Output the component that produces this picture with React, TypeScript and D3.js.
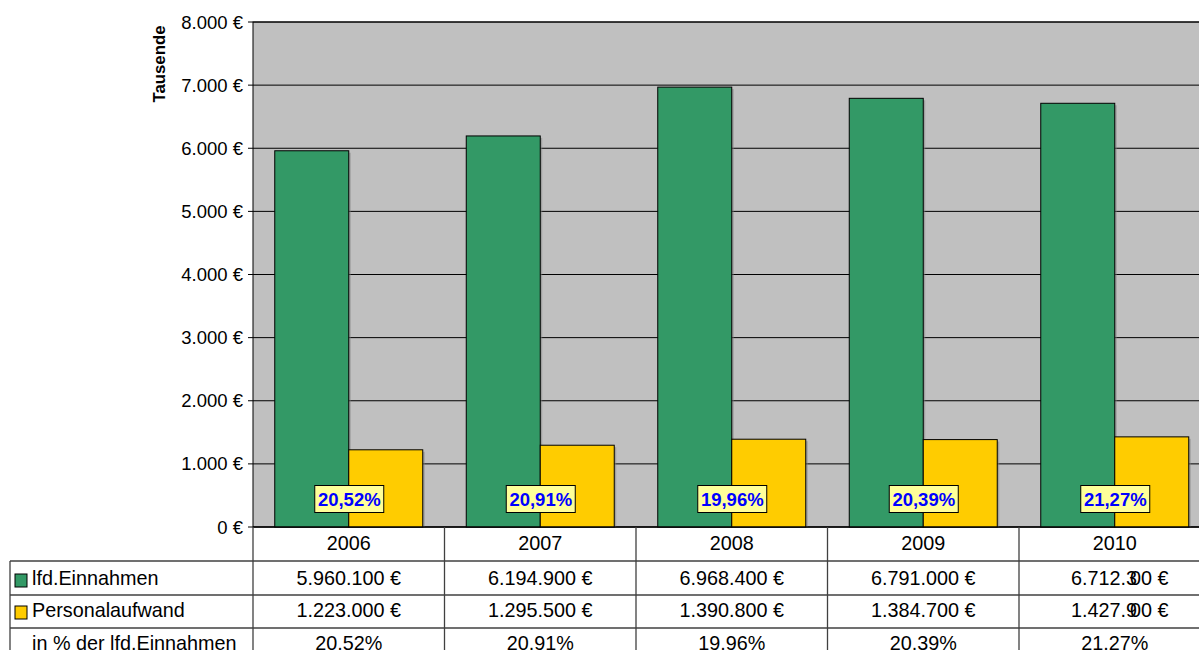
import React from "react";
import * as d3 from "d3";

const years = ["2006", "2007", "2008", "2009", "2010"];
const einnahmen = [5960100, 6194900, 6968400, 6791000, 6712300];
const personal = [1223000, 1295500, 1390800, 1384700, 1427900];
const yTicks = [0, 1000, 2000, 3000, 4000, 5000, 6000, 7000, 8000];
const seriesNames = ["lfd.Einnahmen", "Personalaufwand"];
const rowLabel3 = "in % der lfd.Einnahmen";

const W = 1199;
const H = 650;
const plotLeft = 253;
const plotTop = 22;
const plotBottom = 527;
const bandW = 191.5;
const font = "'Liberation Sans', Arial, sans-serif";
const GREEN = "#339966";
const YELLOW = "#ffcc00";
const TFS = 19.8;

const fmtThousands = (v: number) => {
  const s = Math.round(v).toString();
  return s.replace(/\B(?=(\d{3})+(?!\d))/g, ".");
};

export default function App() {
  const x = d3
    .scaleBand<string>()
    .domain(years)
    .range([plotLeft, plotLeft + bandW * years.length])
    .paddingInner(0)
    .paddingOuter(0);
  const xs = d3
    .scaleBand<string>()
    .domain(["e", "p"])
    .range([0, x.bandwidth()])
    .paddingInner(0)
    .paddingOuter(0.294);
  const y = d3.scaleLinear().domain([0, 8000]).range([plotBottom, plotTop]);
  const plotRight = plotLeft + bandW * years.length;

  const rowY = [527, 561, 595, 628, 662];
  const tableLeft = 10;
  const lineC = "#404040";

  const pct = years.map((_, i) => (personal[i] / einnahmen[i]) * 100);

  const tProps = {
    fontSize: TFS,
    fontFamily: font,
    fill: "#000",
  };

  const cellText = (txt: string, i: number, cx: number, cy: number, key: string) => {
    // 2010 values are rendered with overlapping digits in the reference
    if (i === 4 && txt.endsWith("00 €")) {
      const head = txt.slice(0, txt.length - 4);
      return (
        <text key={key} x={cx + 5} y={cy} textAnchor="middle" {...tProps}>
          {head}
          <tspan dx={-7}>0</tspan>
          <tspan>0 €</tspan>
        </text>
      );
    }
    return (
      <text key={key} x={cx} y={cy} textAnchor="middle" {...tProps}>
        {txt}
      </text>
    );
  };

  return (
    <svg
      width={W}
      height={H}
      style={{ position: "absolute", left: 0, top: 0, background: "#fff", overflow: "hidden" }}
    >
      <defs>
        <clipPath id="clipAll">
          <rect x={0} y={0} width={W} height={H} />
        </clipPath>
      </defs>
      <g clipPath="url(#clipAll)">
        {/* plot background */}
        <rect x={plotLeft} y={plotTop} width={plotRight - plotLeft} height={plotBottom - plotTop} fill="#c0c0c0" stroke="#000" strokeWidth={1} />
        {/* gridlines */}
        {yTicks.map((t) => (
          <line key={"g" + t} x1={plotLeft - 5} x2={plotRight} y1={y(t)} y2={y(t)} stroke="#000" strokeWidth={1} />
        ))}
        {/* y tick labels */}
        {yTicks.map((t) => (
          <text key={"yt" + t} x={243} y={y(t) + 6.5} textAnchor="end" fontSize={18.5} fontFamily={font} fill="#000">
            {t === 0 ? "0 €" : fmtThousands(t) + " €"}
          </text>
        ))}
        <text
          transform={`translate(164.5,64) rotate(-90)`}
          textAnchor="middle"
          fontSize={16.8}
          fontWeight="bold"
          fontFamily={font}
          fill="#000"
        >
          Tausende
        </text>
        {/* bars */}
        {years.map((yr, i) => {
          const bx = x(yr)!;
          const vals = [einnahmen[i] / 1000, personal[i] / 1000];
          return (
            <g key={"b" + yr}>
              {(["e", "p"] as const).map((k, j) => (
                <g key={k}>
                  <rect
                    x={bx + xs(k)! + 2}
                    y={y(vals[j]) + 2}
                    width={xs.bandwidth()}
                    height={plotBottom - y(vals[j]) - 2}
                    fill="#808080"
                    opacity={0.5}
                  />
                  <rect
                    x={bx + xs(k)!}
                    y={y(vals[j])}
                    width={xs.bandwidth()}
                    height={plotBottom - y(vals[j])}
                    fill={j === 0 ? GREEN : YELLOW}
                    stroke="#000"
                    strokeWidth={1}
                  />
                </g>
              ))}
            </g>
          );
        })}
        {/* percentage labels */}
        {years.map((yr, i) => {
          const cx = x(yr)! + x.bandwidth() / 2;
          return (
            <g key={"l" + yr}>
              <rect x={cx - 34} y={485.5} width={69} height={27} fill="#ffff99" stroke="#000" strokeWidth={1} />
              <text x={cx + 0.5} y={506} textAnchor="middle" fontSize={18.5} fontWeight="bold" fontFamily={font} fill="#0000ff">
                {pct[i].toFixed(2).replace(".", ",") + "%"}
              </text>
            </g>
          );
        })}
        {/* data table */}
        <line x1={plotLeft} x2={plotRight} y1={rowY[0]} y2={rowY[0]} stroke="#000" strokeWidth={1.2} />
        {rowY.slice(1, 4).map((ry) => (
          <line key={"h" + ry} x1={tableLeft} x2={plotRight} y1={ry} y2={ry} stroke={lineC} strokeWidth={1.3} />
        ))}
        <line x1={tableLeft} x2={tableLeft} y1={rowY[1]} y2={H} stroke={lineC} strokeWidth={1.3} />
        {years.map((yr) => (
          <line key={"v" + yr} x1={x(yr)!} x2={x(yr)!} y1={rowY[0]} y2={H} stroke={lineC} strokeWidth={1.3} />
        ))}
        <line x1={plotRight} x2={plotRight} y1={rowY[0]} y2={H} stroke={lineC} strokeWidth={1.3} />
        {/* year header */}
        {years.map((yr) => (
          <text key={"yr" + yr} x={x(yr)! + x.bandwidth() / 2} y={549.5} textAnchor="middle" {...tProps}>
            {yr}
          </text>
        ))}
        {/* row labels with legend keys */}
        <rect x={15} y={574} width={12} height={13} fill={GREEN} stroke="#000" strokeWidth={1} />
        <text x={32} y={584.5} {...tProps}>{seriesNames[0]}</text>
        <rect x={15} y={606} width={12} height={13} fill={YELLOW} stroke="#000" strokeWidth={1} />
        <text x={32} y={617} {...tProps}>{seriesNames[1]}</text>
        <text x={32} y={650} {...tProps}>{rowLabel3}</text>
        {/* values */}
        {years.map((yr, i) => {
          const cx = x(yr)! + x.bandwidth() / 2;
          return (
            <g key={"v" + yr}>
              {cellText(fmtThousands(einnahmen[i]) + " €", i, cx, 584.5, "e")}
              {cellText(fmtThousands(personal[i]) + " €", i, cx, 617, "p")}
              <text x={cx} y={650} textAnchor="middle" {...tProps}>
                {pct[i].toFixed(2) + "%"}
              </text>
            </g>
          );
        })}
      </g>
    </svg>
  );
}
